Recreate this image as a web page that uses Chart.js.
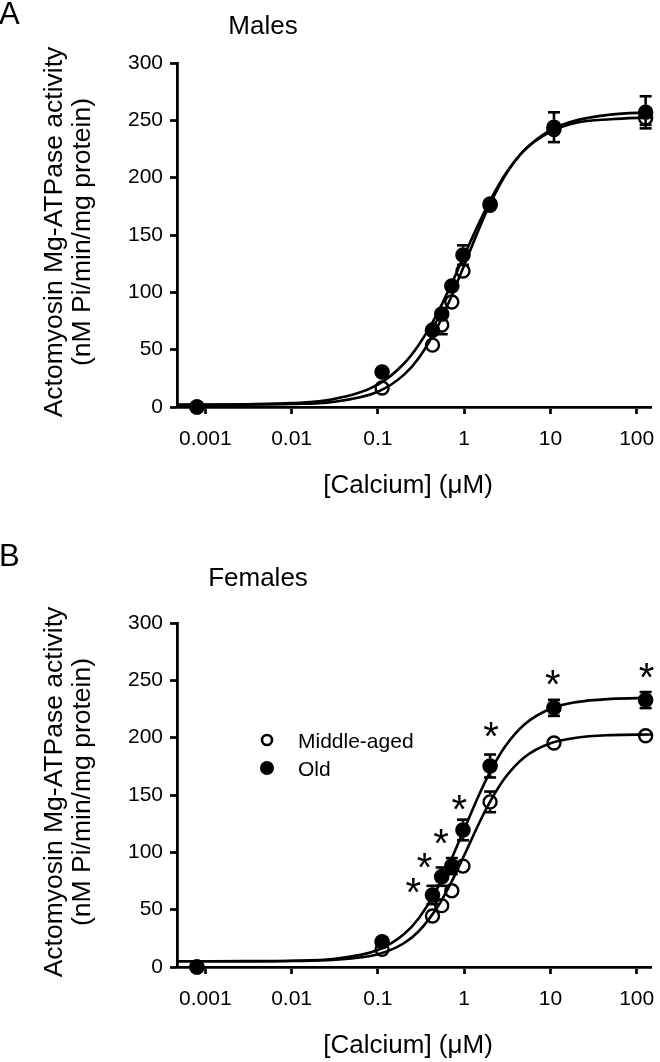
<!DOCTYPE html>
<html>
<head>
<meta charset="utf-8">
<script src="https://cdn.jsdelivr.net/npm/chart.js@4.4.1/dist/chart.umd.min.js"></script>
<style>
  body { margin: 0; background: #fff; }
  canvas { position: absolute; left: 0; }
</style>
</head>
<body>
<canvas id="graphA" width="660" height="530" style="top:0px"></canvas>
<canvas id="graphB" width="660" height="532" style="top:530px"></canvas>
<script>
// calcium concentrations (uM) of the measured points
var calcium = [0.0008, 0.112, 0.43, 0.55, 0.72, 0.97, 2.0, 11, 127];

// x axis ticks
var tickValues = [0.001, 0.01, 0.1, 1, 10, 100];
var tickLabels = ['0.001', '0.01', '0.1', '1', '10', '100'];

// Males
var malesMiddle = [0, 16.6, 54, 71.5, 91.6, 118.6, 176, 242, 252];
var malesMiddleErr = [0, 2, 3, 8, 3, 3, 3, 3, 6];
var malesOld = [0, 30.5, 67, 81, 105.5, 132.5, 177, 244, 257];
var malesOldErr = [0, 3, 3, 3, 3, 8.5, 4, 13, 14];

// Females
var femalesMiddle = [0, 15.4, 44.5, 53.5, 66.5, 88, 144, 195.3, 201.7];
var femalesMiddleErr = [0, 2, 3, 3, 3, 4, 9, 3, 3];
var femalesOld = [0, 22, 62.8, 78.8, 88, 119.5, 175.3, 226, 232.8];
var femalesOldErr = [0, 3, 8, 8, 7, 9, 10, 7, 7];

// fitted curves
var curveX = [0.00047, 0.001, 0.003, 0.01, 0.03, 0.1, 0.2, 0.3, 0.5, 0.7, 1, 1.5, 2, 3, 5, 10, 20, 50, 147];
var malesMiddleCurve = [2.0, 2.0, 2.1, 2.6, 4.5, 13.3, 28, 43, 71, 95, 123.5, 156, 177, 202, 224, 240, 248, 251, 252.6];
var malesOldCurve = [2.0, 2.1, 2.35, 3.35, 6.7, 19.5, 37.7, 54.5, 83, 106, 132, 161, 180, 203, 224, 241.5, 250, 255, 257];
var femalesMiddleCurve = [5.0, 5.0, 5.0, 5.2, 6.1, 11.1, 20.7, 31.4, 53.2, 72.9, 97.2, 125.8, 144.2, 165.2, 182.9, 195.1, 200, 202.2, 202.8];
var femalesOldCurve = [5.0, 5.0, 5.1, 5.5, 7.0, 14.8, 28.5, 42.8, 69.8, 92.8, 120, 150.7, 170.2, 192.5, 211.5, 225.2, 231, 233.8, 234.7];

// significance stars (females)
var starX = [0.255, 0.346, 0.536, 0.87, 2.03, 10.6, 129];
var starY = [71.5, 93.3, 113.6, 143.6, 207.3, 252.6, 259];

var FONT = "'Liberation Sans', Arial, sans-serif";

function pts(xs, ys) {
    return xs.map(function (x, i) { return { x: x, y: ys[i] }; });
}

var decor = {
    id: 'decor',
    afterDatasetsDraw: function (chart, args, o) {
        var ctx = chart.ctx;
        var ys = chart.scales.y;
        var area = chart.chartArea;
        ctx.save();
        ctx.strokeStyle = '#000';
        ctx.fillStyle = '#000';
        ctx.lineWidth = 2.6;

        // error bars, drawn outside the markers
        chart.data.datasets.forEach(function (ds, i) {
            var meta = chart.getDatasetMeta(i);
            if (ds.errors) {
                var r = 7.5;
                meta.data.forEach(function (p, j) {
                    var e = ds.errors[j];
                    if (!e) return;
                    var top = ys.getPixelForValue(ds.data[j].y + e);
                    var bot = ys.getPixelForValue(ds.data[j].y - e);
                    [top, bot].forEach(function (yy) {
                        var d = yy - p.y;
                        if (Math.abs(d) > r) {
                            ctx.beginPath();
                            ctx.moveTo(p.x, p.y + (d > 0 ? r : -r));
                            ctx.lineTo(p.x, yy);
                            ctx.stroke();
                        }
                        if (Math.abs(d) > r - 1) {
                            ctx.beginPath();
                            ctx.moveTo(p.x - 6, yy);
                            ctx.lineTo(p.x + 6, yy);
                            ctx.stroke();
                        }
                    });
                });
            }
            if (ds.stars) {
                ctx.font = '40px ' + FONT;
                ctx.textAlign = 'left';
                ctx.textBaseline = 'alphabetic';
                meta.data.forEach(function (p) {
                    var m = ctx.measureText('*');
                    var bx = p.x - (m.actualBoundingBoxRight - m.actualBoundingBoxLeft) / 2;
                    var by = p.y + (m.actualBoundingBoxAscent - m.actualBoundingBoxDescent) / 2;
                    ctx.fillText('*', bx, by);
                });
            }
        });

        // panel letter and title
        ctx.textBaseline = 'alphabetic';
        ctx.textAlign = 'left';
        ctx.font = '31px ' + FONT;
        ctx.fillText(o.letter, -1, o.letterY);
        ctx.textAlign = 'center';
        ctx.font = '26px ' + FONT;
        ctx.fillText(o.title, o.titleX, o.titleY);

        // x axis title
        ctx.fillText('[Calcium] (\u03bcM)', (area.left + area.right) / 2 - 6, area.bottom + 86);

        // y axis title
        var cy = (area.top + area.bottom) / 2 - 3;
        ctx.font = '26.5px ' + FONT;
        ctx.save();
        ctx.translate(62, cy);
        ctx.rotate(-Math.PI / 2);
        ctx.fillText('Actomyosin Mg-ATPase activity', 0, 0);
        ctx.restore();
        ctx.save();
        ctx.translate(90, cy);
        ctx.rotate(-Math.PI / 2);
        ctx.fillText('(nM Pi/min/mg protein)', 0, 0);
        ctx.restore();

        // legend
        if (o.legend) {
            var lx = area.left + 90, ly = area.top + 117;
            ctx.beginPath();
            ctx.arc(lx, ly, 5, 0, Math.PI * 2);
            ctx.lineWidth = 2.6;
            ctx.stroke();
            ctx.beginPath();
            ctx.arc(lx, ly + 28, 7, 0, Math.PI * 2);
            ctx.fill();
            ctx.textAlign = 'left';
            ctx.font = '21px ' + FONT;
            ctx.fillText('Middle-aged', lx + 31, ly + 7.5);
            ctx.fillText('Old', lx + 31, ly + 35.5);
        }
        ctx.restore();
    }
};

function buildChart(id, middle, middleErr, old, oldErr, middleCurve, oldCurve, withStars, pad, deco) {
    var datasets = [];
    if (withStars) {
        datasets.push({ label: 'stars', data: pts(starX, starY), stars: true, pointRadius: 0, showLine: false });
    }
    datasets.push({
        label: 'Old', data: pts(calcium, old), errors: oldErr, showLine: false,
        pointRadius: 7.8, pointBorderWidth: 0, pointBackgroundColor: '#000', pointBorderColor: '#000', clip: false
    });
    datasets.push({
        label: 'Middle-aged', data: pts(calcium, middle), errors: middleErr, showLine: false,
        pointRadius: 6.5, pointBorderWidth: 2.4, pointBackgroundColor: 'rgba(0,0,0,0)', pointBorderColor: '#000', clip: false
    });
    datasets.push({
        label: 'fit old', data: pts(curveX, oldCurve), showLine: true, pointRadius: 0,
        borderColor: '#000', borderWidth: 2.6, cubicInterpolationMode: 'monotone'
    });
    datasets.push({
        label: 'fit middle', data: pts(curveX, middleCurve), showLine: true, pointRadius: 0,
        borderColor: '#000', borderWidth: 2.6, cubicInterpolationMode: 'monotone'
    });

    var tickFont = { family: FONT, size: 21 };
    return new Chart(document.getElementById(id).getContext('2d'), {
        type: 'scatter',
        data: { datasets: datasets },
        plugins: [decor],
        options: {
            responsive: false,
            devicePixelRatio: 1,
            animation: false,
            layout: { padding: pad },
            plugins: { legend: { display: false }, tooltip: { enabled: false }, decor: deco },
            scales: {
                x: {
                    type: 'logarithmic',
                    min: 0.00047,
                    max: 147,
                    afterBuildTicks: function (s) { s.ticks = tickValues.map(function (v) { return { value: v }; }); },
                    afterFit: function (s) { s.height = 50; s.paddingLeft = 0; s.paddingRight = 0; },
                    ticks: {
                        autoSkip: false, maxRotation: 0, color: '#000', font: tickFont, padding: 13,
                        callback: function (v) { var k = tickValues.indexOf(v); return k >= 0 ? tickLabels[k] : ''; }
                    },
                    grid: { drawOnChartArea: false, drawTicks: true, tickLength: 7, tickWidth: 2.7, tickColor: '#000', color: '#000' },
                    border: { color: '#000', width: 2.8 }
                },
                y: {
                    min: 0,
                    max: 300,
                    afterFit: function (s) { s.width = 177; s.paddingTop = 0; s.paddingBottom = 0; },
                    ticks: { stepSize: 50, color: '#000', font: tickFont, padding: 7 },
                    grid: { drawOnChartArea: false, drawTicks: true, tickLength: 7, tickWidth: 2.7, tickColor: '#000', color: '#000' },
                    border: { color: '#000', width: 2.8 }
                }
            }
        }
    });
}

buildChart('graphA', malesMiddle, malesMiddleErr, malesOld, malesOldErr, malesMiddleCurve, malesOldCurve, false,
    { left: 0, top: 63, right: 2, bottom: 73 },
    { letter: 'A', letterY: 24, title: 'Males', titleX: 263, titleY: 34, legend: false });

buildChart('graphB', femalesMiddle, femalesMiddleErr, femalesOld, femalesOldErr, femalesMiddleCurve, femalesOldCurve, true,
    { left: 0, top: 93, right: 2, bottom: 45 },
    { letter: 'B', letterY: 36, title: 'Females', titleX: 258, titleY: 56, legend: true });
</script>
</body>
</html>
